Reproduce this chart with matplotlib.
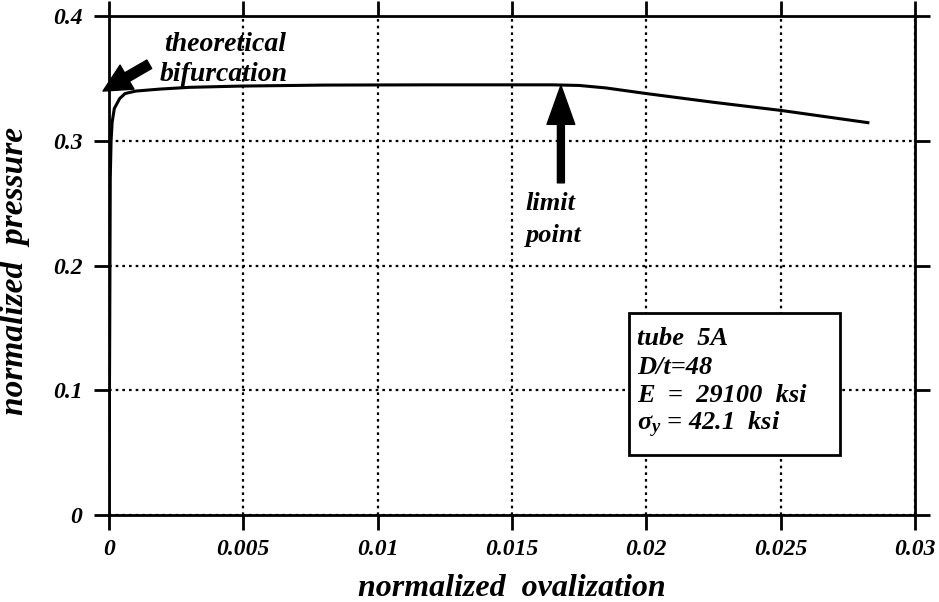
import matplotlib
matplotlib.use("Agg")
import matplotlib.pyplot as plt
from matplotlib.patches import Rectangle

plt.rcParams['font.family'] = ['Liberation Serif', 'DejaVu Serif']
plt.rcParams['font.weight'] = 'bold'
plt.rcParams['font.style'] = 'italic'
plt.rcParams['axes.labelweight'] = 'bold'
plt.rcParams['mathtext.fontset'] = 'custom'
plt.rcParams['mathtext.it'] = 'Liberation Serif:italic:bold'
plt.rcParams['mathtext.rm'] = 'Liberation Serif:italic:bold'

# pressure / ovalization curve
ovalization = [0, 0.00003, 0.00005, 0.00008, 0.00012, 0.0002, 0.0004, 0.0006, 0.001,
               0.0019, 0.003, 0.0049, 0.008, 0.012, 0.0165, 0.0175, 0.0185, 0.02,
               0.0225, 0.025, 0.0283]
pressure = [0, 0.15, 0.27, 0.30, 0.315, 0.326, 0.334, 0.338, 0.340,
            0.3416, 0.343, 0.344, 0.3448, 0.345, 0.345, 0.3445, 0.3425, 0.338,
            0.331, 0.3245, 0.3145]

x_ticks = [0, 0.005, 0.01, 0.015, 0.02, 0.025, 0.03]
x_ticklabels = ['0', '0.005', '0.01', '0.015', '0.02', '0.025', '0.03']
y_ticks = [0, 0.1, 0.2, 0.3, 0.4]
y_ticklabels = ['0', '0.1', '0.2', '0.3', '0.4']

info_lines = ['tube  5A', 'D/t=48', 'E  =  29100  ksi', r'$\sigma_y$ = 42.1  ksi']

fig = plt.figure(figsize=(9.39, 6.02), dpi=100)
ax = fig.add_axes([0.116, 0.1445, 0.8585, 0.8285])

ax.plot(ovalization, pressure, color='black', lw=2.2, solid_capstyle='butt')

ax.set_xlim(0, 0.03)
ax.set_ylim(0, 0.4)
ax.set_xticks(x_ticks)
ax.set_xticklabels(x_ticklabels)
ax.set_yticks(y_ticks)
ax.set_yticklabels(y_ticklabels)
ax.tick_params(direction='out', length=11, width=2, labelsize=17,
               top=True, right=True, pad=6)
ax.tick_params(axis='y', pad=8)
ax.grid(True, color='black', linestyle=(0, (1.2, 1.8)), linewidth=1.6)
for s in ax.spines.values():
    s.set_linewidth(2)

ax.set_xlabel('normalized  ovalization', fontsize=23, va='baseline')
ax.xaxis.set_label_coords(0.5, -0.162)
ax.set_ylabel('normalized  pressure', fontsize=24)
ax.yaxis.set_label_coords(-0.098, 0.49)

# bifurcation annotation
ax.text(0.00432, 0.377, 'theoretical', fontsize=20, ha='center', va='center')
ax.text(0.00428, 0.3536, 'bifurcation', fontsize=20, ha='center', va='center')
ax.annotate('', xy=(-0.00022, 0.340), xytext=(0.00150, 0.3615),
            arrowprops=dict(arrowstyle='simple,head_width=1.0,head_length=1.0,tail_width=0.35',
                            color='black', shrinkA=0, shrinkB=0, mutation_scale=20),
            annotation_clip=False)

# limit point annotation
ax.text(0.0155, 0.2496, 'limit', fontsize=19, ha='left', va='center')
ax.text(0.0155, 0.224, 'point', fontsize=19, ha='left', va='center')
ax.annotate('', xy=(0.01682, 0.3445), xytext=(0.01682, 0.2664),
            arrowprops=dict(arrowstyle='simple,head_width=1.0,head_length=1.4,tail_width=0.25',
                            color='black', shrinkA=0, shrinkB=0, mutation_scale=20))

# info box
ax.add_patch(Rectangle((0.01935, 0.048), 0.00786, 0.1144, facecolor='white',
                       edgecolor='black', lw=2, zorder=5))
for yy, line in zip([0.1416, 0.1184, 0.096, 0.072], info_lines):
    ax.text(0.01965, yy, line, fontsize=19, ha='left', va='center', zorder=6)

fig.savefig('out.png', dpi=100)
